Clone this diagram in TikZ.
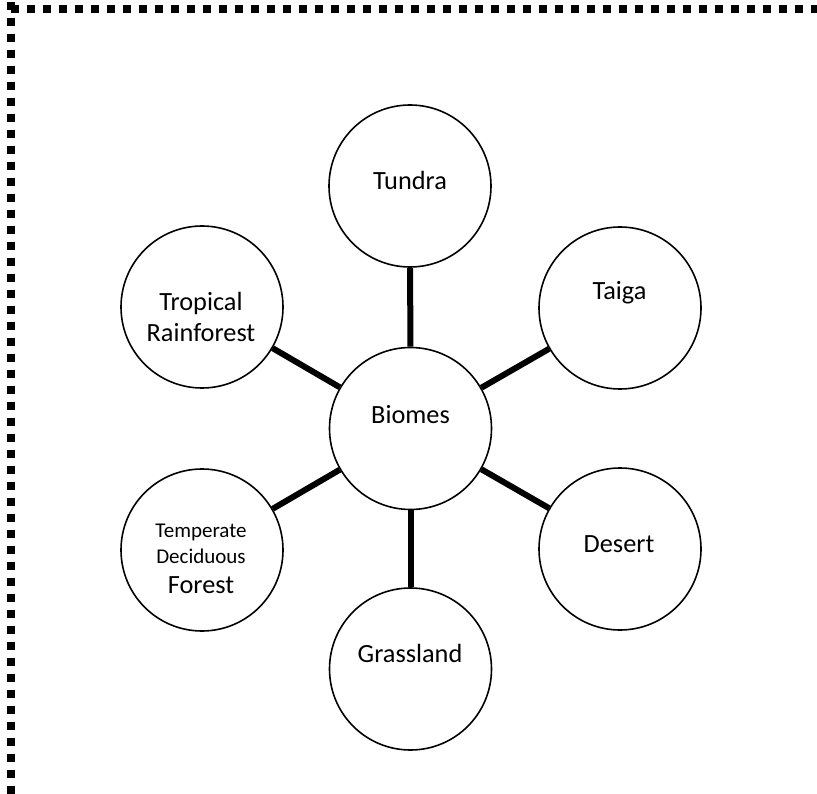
\documentclass[tikz,border=0pt]{standalone}
\usepackage{fontspec}
\setmainfont{Carlito}
\newcommand{\bigtxt}{\fontsize{26.3}{31.5}\selectfont}
\newcommand{\smalltxt}{\fontsize{21}{25.7}\selectfont}
\begin{document}
\begin{tikzpicture}[x=1pt,y=-1pt,
  biome/.style={circle,draw,line width=1.6pt,minimum size=162pt,inner sep=0pt},
  link/.style={line width=6pt},
  lbl/.style={anchor=base,inner sep=0pt,font=\bigtxt,align=center},
  framedots/.style={line width=8pt,dash pattern=on 8pt off 8pt}]
\useasboundingbox (0,0) rectangle (817,794);
\clip (0,0) rectangle (817,794);
\draw[framedots] (11,9) -- (840,9);
\draw[framedots] (11,2) -- (11,820);
% circles
\node[biome] (biomes) at (410.5,428.5) {};
\node[biome] (tundra) at (410,186) {};
\node[biome] (grass) at (410.5,669) {};
\node[biome] (tropic) at (202,307) {};
\node[biome] (temper) at (202,550) {};
\node[biome] (taiga) at (620,308) {};
\node[biome] (desert) at (620,549) {};
% connectors
\draw[link] (biomes) -- (tundra);
\draw[link] (biomes) -- (grass);
\draw[link] (biomes) -- (tropic);
\draw[link] (biomes) -- (temper);
\draw[link] (biomes) -- (taiga);
\draw[link] (biomes) -- (desert);
% labels
\node[lbl] (tBiomes) at (410.5,423) {Biomes};
\node[lbl] (tTundra) at (410,189.3) {Tundra};
\node[lbl] (tGrass) at (410,662) {Grassland};
\node[lbl] (tTaiga) at (619.5,300) {Taiga};
\node[lbl] (tDesert) at (619,552) {Desert};
\node[lbl] (tTropic) at (201,341.7) {Tropical\\Rainforest};
\node[lbl,font=\smalltxt] (tTemper) at (201,593) {Temperate\\Deciduous\\[4pt]{\bigtxt Forest}};
\end{tikzpicture}
\end{document}
